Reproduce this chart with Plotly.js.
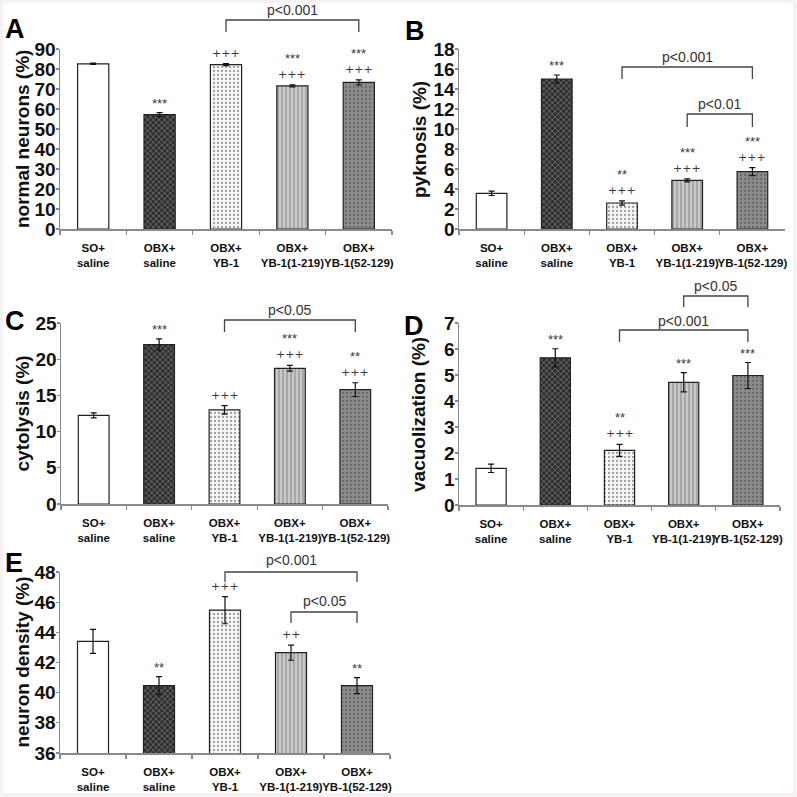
<!DOCTYPE html>
<html>
<head>
<meta charset="utf-8">
<script src="https://cdn.plot.ly/plotly-3.0.1.min.js"></script>
<style>html,body{margin:0;padding:0;background:#f6f2f3;}#chart{width:797px;height:797px;}</style>
</head>
<body>
<div id="chart"></div>
<script>
// ---- data ----
const categories = ['SO+<br>saline', 'OBX+<br>saline', 'OBX+<br>YB-1', 'OBX+<br>YB-1(1-219)', 'OBX+<br>YB-1(52-129)'];

const normalNeurons = [82.6, 57.2, 82.2, 71.6, 73.3];
const normalNeuronsErr = [0.3, 1.0, 0.5, 0.5, 1.3];
const normalNeuronsStars = ['', '***', '', '***', '***'];
const normalNeuronsPlus = ['', '', '+++', '+++', '+++'];

const pyknosis = [3.57, 15.0, 2.6, 4.87, 5.73];
const pyknosisErr = [0.22, 0.4, 0.22, 0.15, 0.4];
const pyknosisStars = ['', '***', '**', '***', '***'];
const pyknosisPlus = ['', '', '+++', '+++', '+++'];

const cytolysis = [12.25, 22.0, 13.0, 18.74, 15.8];
const cytolysisErr = [0.35, 0.8, 0.6, 0.4, 0.95];
const cytolysisStars = ['', '***', '', '***', '**'];
const cytolysisPlus = ['', '', '+++', '+++', '+++'];

const vacuolization = [1.41, 5.66, 2.1, 4.72, 4.98];
const vacuolizationErr = [0.16, 0.35, 0.23, 0.37, 0.5];
const vacuolizationStars = ['', '***', '**', '***', '***'];
const vacuolizationPlus = ['', '', '+++', '', ''];

const neuronDensity = [43.4, 40.47, 45.47, 42.65, 40.47];
const neuronDensityErr = [0.8, 0.6, 0.9, 0.5, 0.53];
const neuronDensityStars = ['', '**', '', '', '**'];
const neuronDensityPlus = ['', '', '+++', '++', ''];

// ---- styling ----
const W = 797;
const barColors = ['#ffffff', '#2e2e2e', '#f7f7f7', '#c8c8c8', '#8c8c8c'];
const patShapes = ['', 'x', '.', '|', '.'];
const patFg = ['#ffffff', '#555555', '#b8b8b8', '#d2d2d2', '#bdbdbd'];
const FONT = 'Liberation Sans, Arial, sans-serif';

const panels = [
  {letter:'A', vals:normalNeurons, errs:normalNeuronsErr, stars:normalNeuronsStars, plus:normalNeuronsPlus,
   dom:[60,392,49,229], range:[0,90], dtick:10, title:'normal neurons (%)', titleX:22, letterPos:[3,12],
   brackets:[{a:2,b:4,top:20,bot:32,label:'p<0.001',ty:10}]},
  {letter:'B', vals:pyknosis, errs:pyknosisErr, stars:pyknosisStars, plus:pyknosisPlus,
   dom:[459,785,49,229], range:[0,18], dtick:2, title:'pyknosis (%)', titleX:419, letterPos:[403,14],
   brackets:[{a:2,b:4,top:67,bot:79,label:'p<0.001',ty:57},{a:3,b:4,top:114,bot:127,label:'p<0.01',ty:104}]},
  {letter:'C', vals:cytolysis, errs:cytolysisErr, stars:cytolysisStars, plus:cytolysisPlus,
   dom:[61,388,323,504], range:[0,25], dtick:5, title:'cytolysis (%)', titleX:22, letterPos:[3,304],
   brackets:[{a:2,b:4,top:320,bot:332,label:'p<0.05',ty:310}]},
  {letter:'D', vals:vacuolization, errs:vacuolizationErr, stars:vacuolizationStars, plus:vacuolizationPlus,
   dom:[459,780,323,505], range:[0,7], dtick:1, title:'vacuolization (%)', titleX:419, letterPos:[402,309],
   brackets:[{a:2,b:4,top:330,bot:342,label:'p<0.001',ty:321},{a:3,b:4,top:296,bot:307,label:'p<0.05',ty:286}]},
  {letter:'E', vals:neuronDensity, errs:neuronDensityErr, stars:neuronDensityStars, plus:neuronDensityPlus,
   dom:[60,390,572,753], range:[36,48], dtick:2, title:'neuron density (%)', titleX:22, letterPos:[3,546],
   brackets:[{a:2,b:4,top:572,bot:582,label:'p<0.001',ty:560},{a:3,b:4,top:612,bot:623,label:'p<0.05',ty:601}]}
];

const traces = [];
const layout = {
  width: W, height: W,
  margin: {l:0, r:0, t:0, b:0},
  paper_bgcolor: '#f6f2f3',
  plot_bgcolor: 'rgba(0,0,0,0)',
  showlegend: false,
  font: {family: FONT, color: '#111'},
  shapes: [{type:'rect', xref:'paper', yref:'paper', x0:3/W, x1:793/W, y0:1-793/W, y1:1-3/W,
            fillcolor:'#ffffff', line:{width:0}, layer:'below'}],
  annotations: []
};

panels.forEach((p, i) => {
  const n = i + 1;
  const xa = 'x' + (n === 1 ? '' : n), ya = 'y' + (n === 1 ? '' : n);
  const xk = 'xaxis' + (n === 1 ? '' : n), yk = 'yaxis' + (n === 1 ? '' : n);
  const [L, R, T, B] = p.dom;
  traces.push({
    type: 'bar', x: categories, y: p.vals, xaxis: xa, yaxis: ya,
    width: 0.47,
    marker: {color: barColors, line: {color: '#222', width: 1.2},
             pattern: {shape: patShapes, fgcolor: patFg, fillmode: 'overlay', size: 4, solidity: 0.25}},
    error_y: {type: 'data', array: p.errs, visible: true, color: '#111', thickness: 1.2, width: 3},
    hoverinfo: 'skip'
  });
  layout[xk] = {
    domain: [L / W, R / W], anchor: ya, type: 'category',
    showline: true, linecolor: '#8a8a8a', linewidth: 1.5,
    ticks: 'outside', tickson: 'boundaries', ticklen: 4, tickcolor: '#8a8a8a', tickwidth: 1.2,
    tickangle: 0, ticklabelstandoff: 8,
    tickfont: {size: 11.5, weight: 'bold', family: FONT, color: '#111'},
    showgrid: false, zeroline: false, fixedrange: true
  };
  layout[yk] = {
    domain: [1 - B / W, 1 - T / W], anchor: xa, range: p.range, dtick: p.dtick,
    showline: true, linecolor: '#8a8a8a', linewidth: 1.5,
    ticks: 'outside', ticklen: 3, tickcolor: '#8a8a8a', tickwidth: 1.2,
    ticklabelstandoff: -4,
    tickfont: {size: 19, weight: 'bold', family: FONT, color: '#111'},
    showgrid: false, zeroline: false, fixedrange: true
  };
  // y-axis title
  layout.annotations.push({xref: 'paper', yref: 'paper', x: p.titleX / W, y: 1 - (T + B) / 2 / W,
    text: p.title, textangle: -90, showarrow: false, xanchor: 'center', yanchor: 'middle',
    font: {size: 19, weight: 'bold', family: FONT, color: '#111'}});
  // significance markers
  p.vals.forEach((v, j) => {
    const top = v + p.errs[j];
    if (p.plus[j]) {
      layout.annotations.push({xref: xa, yref: ya, x: categories[j], y: top, text: p.plus[j],
        showarrow: false, yanchor: 'bottom', yshift: 2, font: {size: 11, color: '#3a3a3a', family: 'DejaVu Sans, sans-serif'}});
    }
    if (p.stars[j]) {
      layout.annotations.push({xref: xa, yref: ya, x: categories[j], y: top, text: p.stars[j],
        showarrow: false, yanchor: 'bottom', yshift: p.plus[j] ? 17 : 0, font: {size: 13, color: '#3a3a3a', family: FONT}});
    }
  });
  // brackets
  const cx = idx => (L + (idx + 0.5) * (R - L) / categories.length) / W;
  p.brackets.forEach(b => {
    const x0 = cx(b.a), x1 = cx(b.b);
    layout.shapes.push({type: 'path', xref: 'paper', yref: 'paper',
      path: `M ${x0} ${1 - b.bot / W} L ${x0} ${1 - b.top / W} L ${x1} ${1 - b.top / W} L ${x1} ${1 - b.bot / W}`,
      line: {color: '#444', width: 1.3}});
    layout.annotations.push({xref: 'paper', yref: 'paper', x: (x0 + x1) / 2, y: 1 - b.ty / W,
      text: b.label, showarrow: false, xanchor: 'center', yanchor: 'middle',
      font: {size: 14, color: '#333', family: FONT}});
  });
  // panel letter
  layout.annotations.push({xref: 'paper', yref: 'paper', x: p.letterPos[0] / W, y: 1 - p.letterPos[1] / W,
    text: p.letter, showarrow: false, xanchor: 'left', yanchor: 'top',
    font: {size: 27, weight: 'bold', family: FONT, color: '#000'}});
});

Plotly.newPlot('chart', traces, layout, {displayModeBar: false, staticPlot: true});
</script>
</body>
</html>
